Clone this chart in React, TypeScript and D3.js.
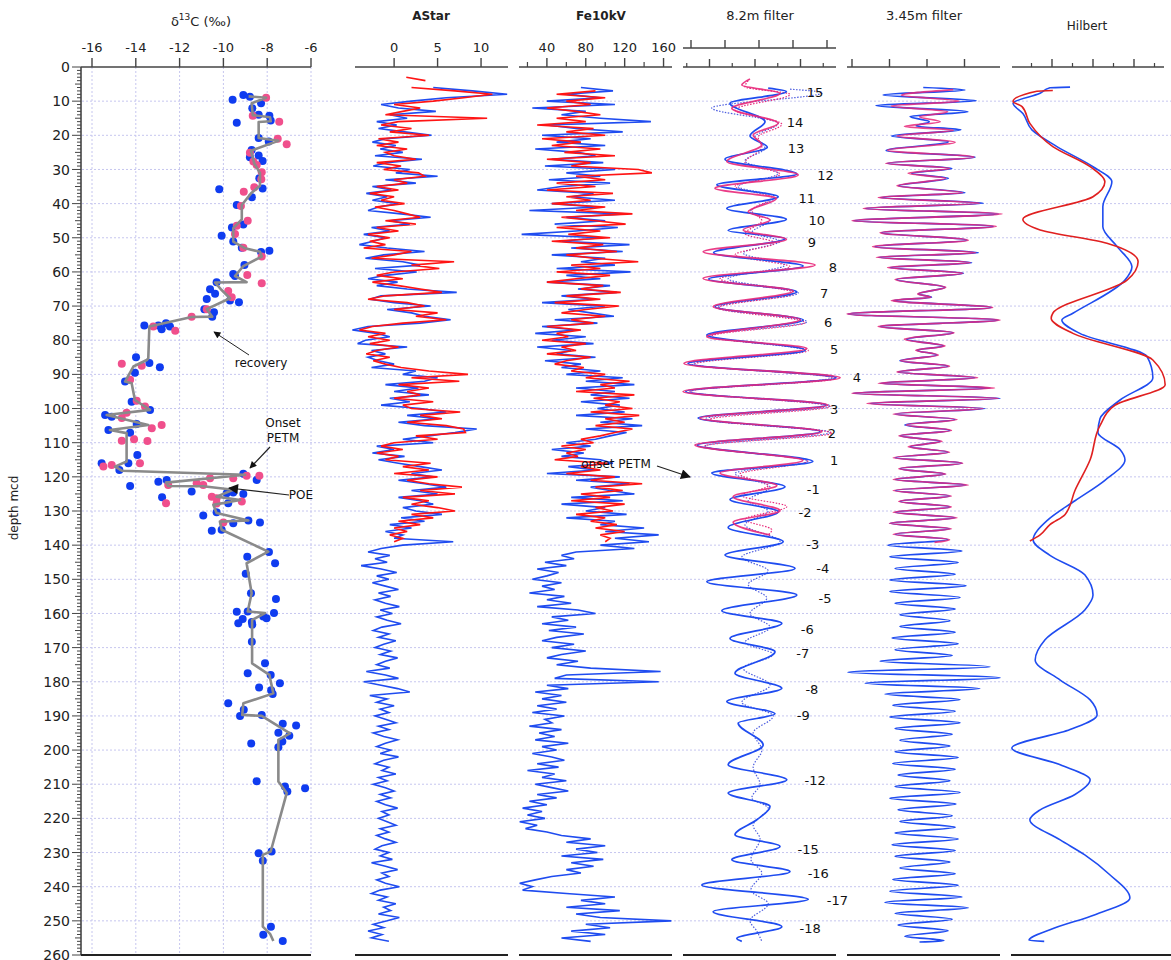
import React from "react";
import * as d3 from "d3";

const FONT = "'DejaVu Sans', Verdana, sans-serif";

const depthLabels = [0, 10, 20, 30, 40, 50, 60, 70, 80, 90, 100, 110, 120, 130, 140, 150, 160, 170, 180, 190, 200, 210, 220, 230, 240, 250, 260];
const d13cTicks = [-16, -14, -12, -10, -8, -6];
const astarTicks = [0, 5, 10];
const feTicks = [40, 80, 120, 160];
const feMinor = [20, 60, 100, 140];

// δ13C samples [depth, value]
const d13cBlue: [number, number][] = [
  [9.6, -9.58], [8.2, -9.09], [8.7, -8.79], [10.6, -8.28], [12.1, -8.68], [14.0, -8.39], [14.3, -7.9], [15.7, -7.84],
  [16.3, -9.39], [20.8, -8.39], [21.8, -7.93], [24.3, -8.71], [25.9, -8.39], [26.4, -8.79], [27.5, -8.21], [32.6, -8.36],
  [35.6, -8.21], [35.8, -10.19], [38.1, -8.7], [40.4, -9.39], [46.1, -9.09], [47.0, -9.61], [49.4, -10.08], [51.1, -9.55],
  [52.9, -9.16], [53.8, -7.9], [54.2, -8.28], [58.0, -9.04], [60.6, -9.55], [61.2, -9.47], [63.0, -10.31], [65.1, -10.61],
  [66.4, -10.38], [68.4, -9.7], [68.9, -9.29], [67.9, -10.76], [70.9, -10.87], [71.8, -10.43], [73.1, -10.51], [75.7, -13.61],
  [75.7, -12.97], [75.0, -12.62], [76.0, -12.44], [76.8, -12.82], [85.0, -13.99], [86.7, -13.38], [87.9, -12.9], [92.1, -14.49],
  [89.5, -14.04], [98.0, -14.19], [100.4, -13.35], [101.9, -15.4], [102.4, -15.1], [104.5, -13.96], [107.1, -14.26], [106.3, -15.25],
  [113.6, -13.93], [116.0, -14.34], [116.0, -15.56], [118.0, -14.75], [122.7, -14.26], [119.1, -9.09], [120.9, -8.48], [121.4, -12.97],
  [120.9, -12.59], [124.3, -11.45], [126.0, -12.8], [124.8, -9.85], [124.6, -9.55], [125.0, -9.09], [127.7, -9.78], [131.3, -10.92],
  [130.4, -10.31], [133.6, -9.55], [135.8, -10.53], [135.5, -10.08], [132.8, -8.86], [133.4, -8.33], [142.0, -7.92], [143.4, -8.91],
  [145.3, -7.64], [148.4, -8.98], [154.1, -8.74], [155.8, -7.6], [159.5, -9.39], [161.6, -9.12], [162.9, -9.32], [159.4, -8.89],
  [162.5, -8.7], [163.3, -8.68], [160.9, -8.18], [161.4, -8.03], [159.9, -7.69], [168.3, -8.7], [174.6, -8.1], [177.5, -8.89],
  [178.0, -7.84], [180.4, -7.42], [181.7, -8.37], [182.5, -7.82], [183.6, -7.75], [186.3, -9.78], [188.2, -9.07], [190.0, -9.24],
  [189.7, -8.25], [192.3, -7.29], [192.8, -6.68], [194.9, -7.49], [195.8, -6.99], [197.5, -7.31], [198.1, -8.73], [199.2, -7.49],
  [209.1, -8.48], [210.7, -7.19], [212.1, -7.08], [211.2, -6.27], [230.2, -8.39], [229.7, -7.8], [232.4, -8.2], [251.7, -7.83],
  [254.1, -8.18], [255.9, -7.29],
];
const d13cPink: [number, number][] = [
  [9.0, -8.05], [14.3, -8.66], [16.0, -7.45], [21.0, -7.52], [22.6, -7.11], [25.1, -8.79], [27.7, -8.63], [28.7, -8.48],
  [30.8, -8.25], [32.9, -8.27], [35.2, -8.59], [36.5, -9.07], [40.7, -9.2], [45.0, -8.89], [46.5, -9.39], [48.9, -9.47],
  [52.9, -9.09], [55.5, -8.25], [60.9, -8.91], [63.3, -8.25], [65.6, -9.78], [67.4, -9.62], [70.9, -10.76], [73.1, -11.45],
  [76.0, -13.2], [77.2, -12.2], [86.9, -14.64], [87.5, -13.73], [91.6, -14.26], [97.7, -13.96], [99.4, -13.58], [102.8, -14.64],
  [101.2, -14.42], [104.8, -12.82], [105.8, -13.27], [109.4, -14.64], [109.0, -14.08], [109.5, -13.47], [116.0, -13.81], [117.0, -15.48],
  [116.5, -15.1], [119.7, -8.94], [119.7, -8.36], [120.4, -9.55], [122.4, -12.52], [121.9, -11.22], [122.4, -10.92], [120.4, -10.61],
  [127.7, -12.62], [125.8, -10.53], [127.2, -9.16], [126.3, -10.31], [127.8, -10.31], [133.4, -10.0],
];
const d13cSmooth: [number, number][] = [
  [8.6, -8.85], [9.0, -8.05], [10.6, -8.71], [14.1, -8.66], [14.7, -7.87], [15.9, -7.84], [16.1, -8.39], [20.8, -8.39],
  [21.6, -7.49], [24.5, -8.74], [28.2, -8.59], [31.1, -8.33], [34.8, -8.33], [36.8, -8.71], [40.4, -9.16], [44.6, -9.16],
  [47.2, -9.55], [51.1, -9.55], [53.1, -9.01], [54.1, -8.33], [55.5, -8.25], [58.3, -9.09], [61.2, -9.47], [63.0, -8.94],
  [63.1, -10.38], [65.3, -10.08], [67.7, -9.7], [70.9, -10.76], [73.1, -10.51], [73.2, -11.45], [76.0, -13.38], [85.3, -13.43],
  [85.8, -13.5], [87.7, -14.11], [92.1, -14.49], [92.6, -14.19], [97.5, -14.04], [100.4, -13.35], [101.9, -15.33], [104.8, -13.43],
  [106.3, -15.18], [107.2, -14.42], [115.5, -14.42], [117.0, -14.95], [118.2, -14.64], [119.4, -9.01], [121.7, -12.62], [122.7, -12.52],
  [122.75, -10.92], [123.8, -9.55], [125.8, -10.31], [126.8, -9.24], [128.2, -10.46], [130.6, -10.31], [132.8, -8.86], [133.1, -10.16],
  [135.5, -10.08], [141.9, -7.95], [145.3, -8.94], [154.1, -8.71], [159.4, -8.89], [159.9, -8.1], [161.9, -8.69], [174.6, -8.69],
  [178.0, -7.9], [183.4, -7.72], [186.3, -9.09], [189.7, -9.14], [190.0, -8.25], [195.1, -6.96], [197.0, -7.49], [209.2, -7.49],
  [212.6, -7.11], [229.7, -7.84], [230.7, -8.2], [251.7, -8.2], [253.8, -7.87], [255.9, -7.72],
];

// AStar, one value per metre
const astarBlueTop = 6;
const astarBlue = [
  4.5, 9, 13, 6, 2, -1.5, 0.5, 4.8, -0.5, 1.5,
  -2, 0.3, -1.8, 1.2, 4.3, -1, -2.5, 0.2, -1.6, 1,
  -2.2, 3.2, -0.8, -2.4, 1.8, 0.2, 5, -1, 2.5, -2.5,
  -0.3, -3.2, -0.8, -2.5, 0.5, -1.8, -3, 0.8, 4.2, -0.5,
  1.8, -2.6, -0.5, -3.5, -1, -2.4, -4, -0.8, 3.5, -1.2,
  -3.3, 1, 3, -2.2, 2.6, -1, -3, 0.4, -2, 1.5,
  7.2, -1.5, -2.8, 0, 4.2, -0.8, 2, 3.5, 6.5, 3,
  -3, -4.8, -2, -0.5, -3.3, -4.2, 1.5, -2.6, -1, -3,
  -1.8, 0, -2.6, 2.5, 1, 5, 3.5, -1, 2.8, 0,
  4, -0.5, 1.8, -1.5, 3, 6, 1.5, 5, 0.5, 3.5,
  9.5, 7, 4, 1, 4.5, -2, 0, -2.5, 1.2, -1.8,
  0.5, 3, 5.5, 2, 4.5, 0.5, 3.5, 6, 2, 5,
  0.5, 3, 4.5, 1, 2.5, 5.5, 0.8, 3.5, -0.5, 2,
  -1, 1, 0, 6.8, 1, -1.5, -3, -0.5, -2.2, -0.8,
  -3.8, -1.5, 0.3, -2, -0.6, -2.5, -1, 0.5, -1.8, -0.4,
  -2.2, -1, 0.6, -1.6, -0.2, -2, -0.8, 0.8, -1.4, -2.4,
  -0.6, -1.8, 0.2, -1.2, -2.2, -0.4, -1.6, 0.4, -1, -2,
  -0.5, -3.2, -1, 0.5, -3.5, -1.5, 0.4, 1.8, -2.8, -0.8,
  -2, 0, -1.6, -0.6, -2.2, -1, 0.2, -1.8, -0.6, -2.4,
  -1.2, 0.4, -1, -2, -0.4, -1.6, 0.5, -1.2, -2.2, -0.6,
  -1.4, 0.2, -1.8, -0.8, -2.4, -1, 0, -1.6, -0.4, -2,
  -1, 0.4, -1.4, -0.6, -1.8, -0.8, 0.2, -1.6, -0.6, -2,
  -1, 0.2, -1.4, -2.2, -0.6, -1.6, -0.2, -2.6, -1, 0.4,
  -1.4, -0.6, -2, -1, 0.6, -1.6, -2.6, -0.8, -1.8, 0.2,
  -1.2, -0.4, -1.8, 0.6, -0.8, -2.4, -1.2, -3, -1.4, -2.6,
  -0.6,
];
const astarRedTop = 3;
const astarRed: (number | null)[] = [
  1.4, 3.6, null, 2, 7, 11.3, 8, 4.5, 0, 3,
  1, -1, 10.7, 0.5, -1.5, 2, -0.5, 4, -1.8, 0.5,
  -2, 1.5, -1, 0, 2.5, -2, 0.8, -1.2, 2.8, 3.5,
  0, 1.5, -2, 0.5, -2.8, 0, -1.5, 1.2, -2.2, 0,
  1.5, 3, -1, 2.5, -2, 0.5, -3, -0.5, -2.8, -1,
  -3.5, 2, 0, -2.6, 6.9, 2, 5.2, 0, -2, 1,
  -2.5, 0.5, 3, 5.5, -1, -3, 1.5, 3.5, 0, 5,
  2.5, 6, 1, -2.5, -4, -1, -3, -0.5, -2.8, 0.5,
  -2, -3.2, -0.5, -2.4, -1, 0.8, 4, 8.5, 2, 7.5,
  0.5, 4, 1.5, 3, 0, 4.5, 1, 2, 7.6, 3,
  5.5, 1.5, 6, 8, 8.2, 2.5, 5, 0, -1.5, 1,
  -2, 0.5, -1, 4.2, 1, 4, 0, 5, 1.5, 4,
  7.8, 3, 7, 1, 4, 2, 5, 7, 2, 4.5,
  0.5, 3, 0, 1.5, -0.5, 1, 0,
];

// Fe 10 kV counts, one value per metre
const feBlueTop = 6;
const feBlue = [
  75, 108, 60, 95, 40, 110, 25, 80, 55, 95,
  147, 40, 70, 118, 35, 85, 50, 100, 28, 72,
  90, 45, 98, 38, 110, 60, 95, 42, 105, 55,
  30, 88, 65, 110, 45, 92, 22, 120, 60, 100,
  48, 113, 70, 14, 95, 55, 125, 65, 118, 45,
  100, 75, 110, 50, 126, 60, 95, 40, 105, 72,
  112, 55, 90, 35, 100, 62, 85, 109, 48, 92,
  35, 70, 28, 80, 45, 88, 30, 65, 50, 90,
  38, 75, 55, 95, 60, 118, 80, 130, 70, 110,
  85, 125, 75, 115, 92, 120, 70, 128, 95, 138,
  80, 122, 105, 90, 60, 85, 45, 78, 55, 95,
  108, 62, 90, 40, 115, 70, 125, 85, 105, 130,
  65, 118, 55, 100, 80, 122, 60, 110, 95, 140,
  100, 155, 110, 145, 95, 130, 70, 55, 68, 38,
  60, 30, 52, 40, 25, 55, 35, 48, 22, 58,
  40, 65, 30, 72, 90, 45, 62, 35, 70, 42,
  78, 50, 35, 68, 45, 80, 55, 40, 72, 50,
  85, 157, 60, 48, 155, 40, 62, 28, 55, 35,
  60, 30, 50, 25, 58, 38, 45, 22, 55, 32,
  48, 28, 62, 35, 50, 25, 45, 58, 30, 52,
  20, 48, 35, 60, 28, 45, 62, 30, 50, 22,
  40, 15, 35, 20, 38, 12, 30, 18, 40, 55,
  85, 60, 100, 70, 92, 55, 98, 65, 88, 60,
  75, 45, 28, 12, 25, 15, 60, 110, 75, 100,
  60, 115, 70, 95, 168, 80, 105, 65, 100, 55,
  85,
];
const feRedTop = 7;
const feRed = [
  90, 50, 100, 60, 85, 40, 70, 95, 50, 80,
  30, 88, 60, 100, 35, 75, 45, 95, 58, 110,
  40, 85, 65, 134, 148, 70, 100, 50, 90, 40,
  108, 60, 85, 45, 100, 70, 128, 55, 90, 121,
  50, 95, 62, 105, 45, 98, 70, 112, 60, 88,
  134, 65, 95, 50, 105, 70, 40, 98, 75, 116,
  60, 95, 48, 114, 80, 55, 100, 65, 88, 40,
  75, 50, 62, 35, 80, 55, 70, 40, 85, 60,
  48, 78, 65, 100, 80, 125, 95, 110, 70, 130,
  88, 115, 100, 128, 85, 135, 100, 120, 90, 128,
  110, 95, 75, 88, 55, 80, 60, 72, 48, 102,
  75, 95, 60, 110, 85, 138, 90, 118, 75, 105,
  65, 120, 90, 108, 70, 100, 85, 112, 90, 120,
  95, 105, 100,
];

// 8.2 m bandpass filter turning points [depth, value]
const f82Blue: [number, number][] = [
  [6.2, 0.29], [7.2, 0.69], [10.6, -0.55], [16.0, 0.22], [20.2, -0.11], [23.5, 0.27], [27.0, -0.66], [31.3, 0.92],
  [34.5, -0.84], [38.0, 0.51], [41.4, -0.62], [44.6, 0.69], [47.9, -0.59], [50.2, 0.66], [54.4, -0.91], [58.3, 1.06],
  [62.1, -1.02], [65.8, 0.92], [70.2, -0.88], [74.1, 1.06], [78.5, -1.06], [82.9, 1.1], [86.8, -1.47], [91.0, 1.78],
  [95.0, -1.52], [99.0, 1.56], [102.8, -1.25], [106.8, 1.43], [110.7, -1.27], [115.5, 1.27], [118.9, -0.95], [122.9, 0.66],
  [126.6, -0.55], [130.2, 0.51], [134.8, -0.59], [139.0, 0.62], [142.9, -0.66], [146.8, 0.88], [150.7, -1.06], [154.6, 0.92],
  [159.2, -0.73], [162.9, 0.59], [167.3, -0.55], [171.2, 0.44], [177.5, -0.44], [181.9, 0.59], [185.8, -0.62], [189.4, 0.44],
  [192.1, -0.37], [198.5, 0.18], [204.3, -0.59], [208.7, 0.7], [212.6, -0.59], [216.5, 0.33], [220.4, 0.04], [224.8, -0.44],
  [228.2, 0.55], [232.1, -0.51], [235.6, 0.77], [239.5, -1.17], [243.7, 1.17], [247.3, -0.92], [251.7, 0.59], [255.2, -0.4],
  [256.0, -0.29],
];
const f82BlueDot: [number, number][] = [
  [6.5, 0.77], [7.5, 1.48], [12.0, -0.95], [16.5, 0.51], [20.5, 0.0], [23.8, 0.22], [27.5, -0.22], [31.2, 0.51],
  [35.0, -0.37], [38.0, 0.44], [42.5, -0.11], [44.8, 0.33], [48.5, -0.07], [51.0, 0.55], [54.5, -0.26], [58.0, 0.66],
  [62.0, -0.59], [66.2, 0.95], [70.2, -0.81], [74.6, 1.14], [78.7, -1.03], [83.0, 1.1], [87.0, -1.38], [91.0, 1.69],
  [95.0, -1.43], [99.2, 1.65], [103.0, -1.1], [107.0, 1.65], [111.0, -1.1], [115.4, 1.16], [119.0, -0.44], [123.0, 0.33],
  [127.0, -0.15], [130.0, 0.29], [134.0, -0.22], [139.0, 0.55], [143.5, -0.29], [147.5, 0.29], [151.5, -0.15], [155.5, 0.26],
  [160.0, -0.11], [164.0, 0.33], [168.5, -0.22], [172.0, 0.4], [176.0, -0.26], [181.0, 0.33], [186.0, -0.29], [190.0, 0.4],
  [195.0, -0.04], [200.0, 0.15], [205.0, -0.04], [210.0, 0.11], [214.0, -0.07], [217.0, 0.29], [222.0, -0.04], [226.0, 0.11],
  [232.0, -0.09], [236.0, 0.15], [241.0, -0.09], [245.0, 0.29], [250.0, -0.11], [253.0, 0.04], [256.0, 0.15],
];
const f82Pink: [number, number][] = [
  [3.5, -0.11], [5.3, -0.29], [7.7, 0.55], [12.1, -0.51], [16.5, 0.51], [19.9, -0.04], [22.8, 0.15], [27.7, -0.62],
  [31.6, 0.95], [35.5, -0.88], [38.5, 0.47], [42.4, -0.15], [44.8, 0.33], [47.7, -0.26], [50.5, 0.69], [54.1, -1.14],
  [58.0, 1.32], [61.9, -1.14], [65.6, 0.84], [70.2, -0.92], [73.9, 0.99], [79.0, -1.06], [82.4, 1.14], [86.8, -1.56],
  [91.0, 1.87], [95.0, -1.58], [99.0, 1.6], [102.8, -1.21], [106.8, 1.47], [110.7, -1.32], [115.2, 1.05], [118.9, -0.77],
  [122.5, 0.48], [125.8, -0.48], [129.9, 0.55], [133.3, -0.48], [137.0, 0.33],
];
const f82PinkDot: [number, number][] = [
  [4.0, -0.15], [5.8, -0.22], [8.0, 0.77], [12.5, -0.44], [16.8, 0.59], [20.5, 0.07], [23.5, 0.15], [28.0, -0.22],
  [31.4, 0.55], [35.0, -0.44], [38.2, 0.37], [42.0, -0.07], [45.0, 0.15], [48.8, -0.22], [51.5, 0.44], [55.0, -0.44],
  [58.5, 0.77], [62.0, -0.77], [66.2, 0.88], [70.5, -0.81], [74.8, 1.1], [78.8, -0.95], [83.0, 1.17], [87.0, -1.32],
  [91.2, 1.76], [95.0, -1.43], [99.4, 1.65], [103.2, -0.99], [107.2, 1.69], [111.0, -1.1], [115.4, 1.16], [119.2, -0.33],
  [122.6, 0.29], [125.5, -0.29], [128.7, 0.7], [132.5, -0.22], [135.5, 0.37], [137.0, 0.29],
];
const f82Labels: [string, number, number][] = [
  ["15", 7.4, 1.32], ["14", 16.3, 0.88], ["13", 23.8, 0.9], ["12", 31.6, 1.55], ["11", 38.4, 1.14], ["10", 45.0, 1.36],
  ["9", 51.4, 1.25], ["8", 58.6, 1.71], ["7", 66.2, 1.52], ["6", 74.9, 1.61], ["5", 82.8, 1.74], ["4", 91.0, 2.24],
  ["3", 100.1, 1.74], ["2", 107.4, 1.69], ["1", 115.3, 1.74], ["-1", 123.6, 1.28], ["-2", 130.5, 1.1], ["-3", 139.9, 1.27],
  ["-4", 146.8, 1.49], ["-5", 155.5, 1.54], ["-6", 164.6, 1.15], ["-7", 171.6, 1.05], ["-8", 182.2, 1.25], ["-9", 189.9, 1.06],
  ["-12", 208.9, 1.32], ["-15", 229.0, 1.17], ["-16", 236.0, 1.39], ["-17", 244.1, 1.81], ["-18", 252.1, 1.21],
];

// 3.45 m bandpass filter turning points [depth, value]
const f345Blue: [number, number][] = [
  [6.0, -0.1], [6.7, 1.01], [8.2, -1.17], [9.9, 1.31], [11.3, -1.36], [13.1, 1.09], [14.5, -0.45], [16.0, 0.06],
  [17.3, -0.29], [18.4, 0.9], [20.2, -0.94], [21.9, 0.57], [24.5, -1.09], [26.4, 1.28], [28.2, -1.07], [29.7, 0.66],
  [31.1, -0.41], [32.6, 0.57], [34.8, -0.76], [36.8, 1.01], [38.2, -1.25], [39.9, 1.5], [41.4, -1.65], [43.0, 1.9],
  [45.0, -1.96], [46.6, 1.77], [48.5, -1.21], [50.7, 1.06], [52.6, -1.39], [54.4, 1.37], [55.7, -1.3], [57.3, 1.19],
  [58.7, -0.99], [60.4, 0.97], [62.2, -0.81], [64.5, 0.48], [66.5, -0.23], [67.4, 0.12], [68.4, -0.9], [70.4, 1.72],
  [72.3, -2.1], [74.1, 1.9], [76.0, -1.25], [77.8, 0.7], [79.7, -0.54], [81.7, 0.44], [82.9, -0.27], [84.3, 0.26],
  [86.0, -0.72], [87.6, 0.56], [89.3, -0.77], [91.0, 1.28], [92.6, -1.25], [94.0, 1.68], [95.5, -1.97], [97.0, 1.95],
  [98.5, -1.52], [100.0, 1.55], [101.6, -0.85], [103.2, 0.75], [104.8, -0.59], [106.4, 0.61], [108.0, -0.72], [109.6, 0.35],
  [111.2, -0.45], [112.8, 0.56], [114.4, -0.85], [116.0, 0.93], [117.6, -0.72], [119.2, 0.48], [120.8, -0.85], [122.4, 1.04],
  [124.0, -0.85], [125.6, 0.61], [127.2, -0.72], [128.8, 0.61], [130.4, -0.85], [132.0, 0.75], [133.6, -0.99], [135.2, 0.61],
  [136.8, -0.85], [138.4, 0.56], [140.0, -1.04], [141.7, 0.93], [143.4, -0.99], [145.1, 0.83], [146.8, -0.85], [148.5, 0.75],
  [150.2, -0.99], [151.9, 1.04], [153.6, -0.99], [155.3, 0.88], [157.0, -0.85], [158.7, 0.75], [160.4, -0.72], [162.1, 0.61],
  [163.8, -0.72], [165.5, 0.75], [167.2, -0.93], [168.9, 0.83], [170.6, -0.85], [172.3, 0.67], [174.0, -1.25], [175.6, 1.68],
  [177.2, -2.11], [178.8, 1.95], [180.4, -1.65], [182.0, 1.41], [183.6, -1.12], [185.2, 0.88], [186.9, -0.91], [188.6, 0.75],
  [190.3, -0.99], [192.0, 0.88], [193.7, -0.85], [195.4, 0.67], [197.1, -0.72], [198.8, 0.61], [200.5, -0.85], [202.2, 0.83],
  [203.9, -0.91], [205.6, 0.75], [207.3, -0.77], [209.0, 0.61], [210.7, -0.85], [212.4, 0.88], [214.1, -0.99], [215.8, 0.77],
  [217.5, -0.77], [219.2, 0.67], [220.9, -0.72], [222.6, 0.75], [224.3, -0.85], [226.0, 0.83], [227.7, -0.93], [229.4, 0.75],
  [231.1, -0.85], [232.8, 0.61], [234.5, -0.72], [236.2, 0.75], [237.9, -0.91], [239.6, 0.83], [241.3, -0.99], [243.0, 0.93],
  [244.6, -1.12], [246.2, 1.1], [247.8, -0.85], [249.5, 0.67], [251.2, -0.77], [252.9, 0.56], [254.5, -0.59], [255.8, 0.45],
  [256.2, -0.2],
];
const f345Pink: [number, number][] = [
  [6.6, 0.7], [8.3, -0.68], [10.0, 0.85], [11.4, -0.95], [13.1, 0.55], [14.6, -0.2], [16.0, 0.35], [17.4, -0.6],
  [18.5, 0.7], [20.2, -0.8], [22.0, 0.75], [24.4, -1.05], [26.4, 1.25], [28.2, -1.1], [29.7, 0.6], [31.1, -0.5],
  [32.6, 0.5], [34.8, -0.8], [36.8, 0.95], [38.2, -1.3], [39.9, 1.4], [41.4, -1.7], [43.0, 2.0], [45.0, -2.0],
  [46.6, 1.85], [48.5, -1.25], [50.7, 1.1], [52.6, -1.45], [54.4, 1.3], [55.7, -1.35], [57.3, 1.15], [58.7, -1.05],
  [60.4, 0.95], [62.2, -0.85], [64.5, 0.5], [66.5, -0.25], [67.4, 0.1], [68.4, -0.95], [70.4, 1.75], [72.3, -2.13],
  [74.1, 1.95], [76.0, -1.3], [77.8, 0.72], [79.7, -0.6], [81.7, 0.48], [82.9, -0.3], [84.3, 0.3], [86.0, -0.7],
  [87.6, 0.6], [89.3, -0.8], [91.0, 1.35], [92.6, -1.3], [94.0, 1.8], [95.5, -2.0], [97.0, 1.9], [98.5, -1.6],
  [100.0, 1.5], [101.6, -0.9], [103.2, 0.8], [104.8, -0.55], [106.4, 0.65], [108.0, -0.75], [109.6, 0.4], [111.2, -0.5],
  [112.8, 0.6], [114.4, -0.9], [116.0, 0.95], [117.6, -0.75], [119.2, 0.5], [120.8, -0.9], [122.4, 1.1], [124.0, -0.9],
  [125.6, 0.65], [127.2, -0.75], [128.8, 0.65], [130.4, -0.9], [132.0, 0.8], [133.6, -1.0], [135.2, 0.65], [136.8, -0.9],
  [138.4, 0.6], [139.2, 0.2],
];

// Hilbert amplitude envelopes [depth, value]
const hilbertBlue: [number, number][] = [
  [5.9, 1.44], [6.1, 0.95], [7.7, 0.71], [10.6, 0.05], [13.6, 0.29], [18.4, 0.51], [23.3, 1.12], [29.2, 2.0],
  [33.6, 2.46], [40.9, 2.24], [46.8, 2.24], [52.6, 2.59], [58.5, 2.95], [62.4, 2.78], [72.1, 1.51], [74.1, 1.24],
  [78.0, 1.68], [84.8, 3.32], [91.0, 3.46], [97.5, 2.66], [103.0, 2.17], [107.0, 2.12], [112.0, 2.66], [115.0, 2.78],
  [121.0, 2.29], [127.0, 1.56], [132.6, 0.9], [138.5, 0.54], [143.0, 0.95], [148.7, 1.8], [154.6, 2.0], [159.0, 1.8],
  [167.7, 0.83], [173.6, 0.59], [179.5, 1.2], [185.3, 1.93], [189.7, 2.1], [194.0, 1.44], [199.4, 0.02], [204.3, 1.2],
  [208.7, 1.93], [213.0, 1.56], [217.5, 0.71], [220.4, 0.46], [226.3, 1.2], [230.7, 1.8], [236.5, 2.41], [243.3, 2.9],
  [248.2, 2.05], [252.6, 0.95], [255.7, 0.44], [256.0, 0.81],
];
const hilbertRed: [number, number][] = [
  [6.9, 1.02], [7.1, 0.63], [10.1, 0.05], [11.6, 0.27], [16.5, 0.46], [23.3, 1.02], [29.2, 1.93], [33.6, 2.29],
  [38.0, 2.0], [44.6, 0.29], [47.7, 0.71], [51.6, 2.34], [57.0, 3.1], [62.4, 2.83], [72.1, 1.02], [73.6, 0.98],
  [78.0, 1.51], [85.8, 3.46], [93.0, 3.76], [99.0, 2.54], [105.0, 2.17], [115.0, 1.93], [124.0, 1.56], [131.0, 1.32],
  [134.0, 0.95], [137.0, 0.71], [138.8, 0.46],
];

const BLUE = "#1f4cf0";
const RED = "#ff1414";
const PINK = "#e8287a";
const GRID = "#c6c6ef";
const AXIS = "#444";

const y = d3.scaleLinear().domain([0, 260]).range([67, 955]);
const xD13 = d3.scaleLinear().domain([-16, -6]).range([92, 311]);
const xAstar = d3.scaleLinear().domain([-4.5, 13.1]).range([355, 508]);
const xFe = d3.scaleLinear().domain([11.3, 168.7]).range([519, 672]);
const x82 = d3.scaleLinear().domain([-1, 1]).range([709.5, 800.5]);
const x82Top = d3.scaleLinear().domain([-2, 2]).range([691, 827]);
const x345 = d3.scaleLinear().domain([-2, 1]).range([852, 964.5]);
const xHil = d3.scaleLinear().domain([1, 3]).range([1052, 1134]);

function pairs(top: number, vals: (number | null)[]): [number, number | null][] {
  return vals.map((v, i) => [top + i, v]);
}

function linePath(xs: d3.ScaleLinear<number, number>, data: [number, number | null][], curve?: d3.CurveFactory) {
  const g = d3
    .line<[number, number | null]>()
    .defined((d) => d[1] != null)
    .x((d) => xs(d[1] as number))
    .y((d) => y(d[0]));
  if (curve) g.curve(curve);
  return g(data) || "";
}

function TopAxis({ x0, x1, ticks, minor = [], sc, labels = true, ty = 67, len = 9, mlen = 5 }: any) {
  return (
    <g>
      <line x1={x0} x2={x1} y1={ty} y2={ty} stroke={AXIS} strokeWidth={1.6} />
      {ticks.map((t: number) => (
        <g key={"t" + t}>
          <line x1={sc(t)} x2={sc(t)} y1={ty} y2={ty - len} stroke={AXIS} strokeWidth={1.4} />
          {labels && (
            <text x={sc(t)} y={ty - 15} textAnchor="middle" fontSize={13} fontFamily={FONT} fill="#222">
              {t}
            </text>
          )}
        </g>
      ))}
      {minor.map((t: number) => (
        <line key={"m" + t} x1={sc(t)} x2={sc(t)} y1={ty} y2={ty - mlen} stroke={AXIS} strokeWidth={1.2} />
      ))}
    </g>
  );
}

export default function App() {
  const minorDepth = d3.range(0, 261, 1);
  const gridDepth = depthLabels.filter((d) => d > 0 && d < 260);
  const dotted = "2,2";

  return (
    <svg
      width={1171}
      height={960}
      style={{ display: "block", background: "#fff", position: "absolute", left: 0, top: 0 }}
      fontFamily={FONT}
    >
      <defs>
        <marker id="ah" viewBox="0 0 10 10" refX="9" refY="5" markerWidth="9" markerHeight="7" markerUnits="userSpaceOnUse" orient="auto">
          <path d="M0,0 L10,5 L0,10 z" fill="#111" />
        </marker>
        <marker id="ahBig" viewBox="0 0 10 10" refX="9" refY="5" markerWidth="14" markerHeight="10" markerUnits="userSpaceOnUse" orient="auto">
          <path d="M0,0 L10,5 L0,10 z" fill="#111" />
        </marker>
      </defs>

      {/* grid */}
      {gridDepth.map((d) => (
        <line key={"hg" + d} x1={82} x2={1171} y1={y(d)} y2={y(d)} stroke={GRID} strokeWidth={1} strokeDasharray={dotted} />
      ))}
      {d13cTicks.map((t) => (
        <line key={"vg" + t} x1={xD13(t)} x2={xD13(t)} y1={67} y2={955} stroke={GRID} strokeWidth={1} strokeDasharray={dotted} />
      ))}

      {/* depth axis */}
      <line x1={81} x2={81} y1={67} y2={955} stroke={AXIS} strokeWidth={1.6} />
      {minorDepth.map((d) => {
        const len = d % 10 === 0 ? 9 : d % 5 === 0 ? 6 : 4;
        return <line key={"yt" + d} x1={81 - len} x2={81} y1={y(d)} y2={y(d)} stroke={AXIS} strokeWidth={1} />;
      })}
      {depthLabels.map((d) => (
        <text key={"yl" + d} x={70} y={y(d)} dy="0.36em" textAnchor="end" fontSize={14} fill="#222">
          {d}
        </text>
      ))}
      <text transform="translate(18,508) rotate(-90)" textAnchor="middle" fontSize={12} fill="#222">
        depth mcd
      </text>

      {/* titles */}
      <text x={201} y={26} textAnchor="middle" fontSize={13} fill="#222">
        δ<tspan dy={-6} fontSize={9}>13</tspan>
        <tspan dy={6}>C (‰)</tspan>
      </text>
      <text x={431} y={20} textAnchor="middle" fontSize={12} fontWeight="bold" fill="#222">AStar</text>
      <text x={601} y={20} textAnchor="middle" fontSize={12} fontWeight="bold" fill="#222">Fe10kV</text>
      <text x={760} y={20} textAnchor="middle" fontSize={13} fill="#222">8.2m filter</text>
      <text x={924} y={20} textAnchor="middle" fontSize={13} fill="#222">3.45m filter</text>
      <text x={1087} y={30} textAnchor="middle" fontSize={12} fill="#222">Hilbert</text>

      {/* top axes */}
      <TopAxis x0={81} x1={311} ticks={d13cTicks} sc={xD13} />
      <TopAxis x0={355} x1={508} ticks={astarTicks} sc={xAstar} />
      <TopAxis x0={519} x1={672} ticks={feTicks} minor={feMinor} sc={xFe} />
      <TopAxis x0={683} x1={836} ticks={[-2, -1, 0, 1, 2]} sc={x82Top} labels={false} ty={48} len={8} />
      <TopAxis x0={683} x1={836} ticks={[-1, 0, 1]} minor={[-1.5, -0.5, 0.5, 1.5]} sc={x82} labels={false} len={8} mlen={4} />
      <TopAxis x0={847} x1={1000} ticks={[-2, -1, 0, 1]} sc={x345} labels={false} len={8} />
      <TopAxis x0={1012} x1={1164} ticks={[1, 2, 3]} minor={[0.5, 1.5, 2.5, 3.5]} sc={xHil} labels={false} len={8} mlen={4} />

      {/* bottom lines */}
      {[[81, 311], [355, 508], [519, 672], [683, 836], [847, 1000], [1011, 1171]].map(([a, b]) => (
        <line key={"b" + a} x1={a} x2={b} y1={955} y2={955} stroke="#222" strokeWidth={1.8} />
      ))}

      {/* δ13C */}
      {d13cBlue.map((d, i) => (
        <circle key={"cb" + i} cx={xD13(d[1])} cy={y(d[0])} r={4} fill="#0f3cf0" />
      ))}
      {d13cPink.map((d, i) => (
        <circle key={"cp" + i} cx={xD13(d[1])} cy={y(d[0])} r={4} fill="#f04f8c" />
      ))}
      <path d={linePath(xD13, d13cSmooth)} fill="none" stroke="#8a8a8a" strokeWidth={2.6} strokeLinejoin="round" />

      {/* AStar & Fe */}
      <path d={linePath(xAstar, pairs(astarBlueTop, astarBlue))} fill="none" stroke={BLUE} strokeWidth={1.6} />
      <path d={linePath(xAstar, pairs(astarRedTop, astarRed))} fill="none" stroke={RED} strokeWidth={1.6} />
      <path d={linePath(xFe, pairs(feBlueTop, feBlue))} fill="none" stroke={BLUE} strokeWidth={1.6} />
      <path d={linePath(xFe, pairs(feRedTop, feRed))} fill="none" stroke={RED} strokeWidth={1.6} />

      {/* 8.2 m filter */}
      <path d={linePath(x82, f82BlueDot, d3.curveMonotoneY)} fill="none" stroke="#5060e0" strokeWidth={1.2} strokeDasharray="1.5,1.5" />
      <path d={linePath(x82, f82PinkDot, d3.curveMonotoneY)} fill="none" stroke={PINK} strokeWidth={1.2} strokeDasharray="1.5,1.5" />
      <path d={linePath(x82, f82Blue, d3.curveMonotoneY)} fill="none" stroke={BLUE} strokeWidth={1.7} />
      <path d={linePath(x82, f82Pink, d3.curveMonotoneY)} fill="none" stroke={PINK} strokeWidth={1.7} opacity={0.9} />
      {f82Labels.map(([t, d, v]) => (
        <text key={"l" + t} x={x82(v)} y={y(d)} dy="0.36em" textAnchor="middle" fontSize={13} fill="#111">
          {t}
        </text>
      ))}

      {/* 3.45 m filter */}
      <path d={linePath(x345, f345Blue, d3.curveMonotoneY)} fill="none" stroke={BLUE} strokeWidth={1.7} />
      <path d={linePath(x345, f345Pink, d3.curveMonotoneY)} fill="none" stroke={PINK} strokeWidth={1.7} opacity={0.85} />

      {/* Hilbert */}
      <path d={linePath(xHil, hilbertBlue, d3.curveMonotoneY)} fill="none" stroke={BLUE} strokeWidth={1.6} />
      <path d={linePath(xHil, hilbertRed, d3.curveMonotoneY)} fill="none" stroke="#e02020" strokeWidth={1.6} />

      {/* annotations */}
      <line x1={249} y1={355} x2={214} y2={332} stroke="#222" strokeWidth={1} markerEnd="url(#ah)" />
      <text x={261} y={367} textAnchor="middle" fontSize={12} fill="#111">recovery</text>
      <text x={283} y={427} textAnchor="middle" fontSize={12} fill="#111">Onset</text>
      <text x={283} y={442} textAnchor="middle" fontSize={12} fill="#111">PETM</text>
      <line x1={270} y1={447} x2={250} y2={468} stroke="#222" strokeWidth={1.2} markerEnd="url(#ah)" />
      <text x={301} y={499} textAnchor="middle" fontSize={12} fill="#111">POE</text>
      <line x1={289} y1={495} x2={229} y2={488} stroke="#222" strokeWidth={1.2} markerEnd="url(#ahBig)" />
      <text x={616} y={468} textAnchor="middle" fontSize={12} fill="#111">onset PETM</text>
      <line x1={657} y1={466} x2={690} y2={477} stroke="#222" strokeWidth={1.2} markerEnd="url(#ahBig)" />
    </svg>
  );
}
